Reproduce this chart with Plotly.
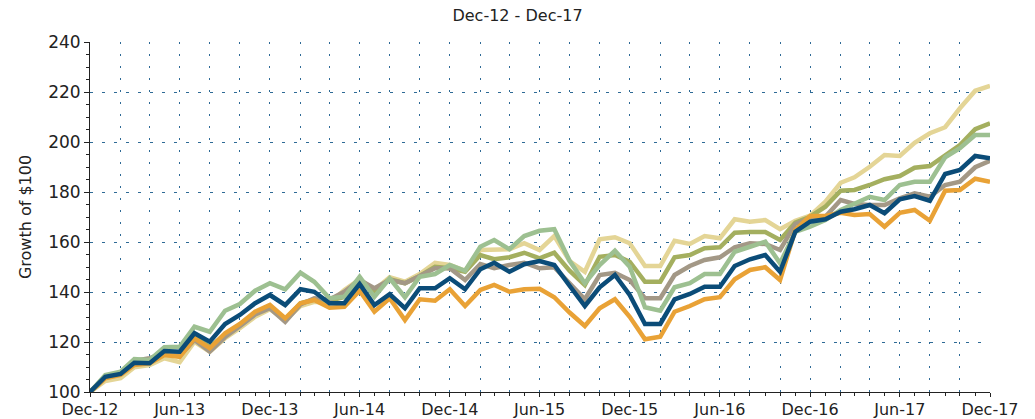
import pandas as pd
import plotly.graph_objs as go

# Monthly growth of $100, Dec-12 .. Dec-17
months = pd.date_range("2012-12-01", "2017-12-01", freq="MS")

blue = [100, 106.1, 107.2, 111.7, 111.5, 116.4, 116.1, 123.5, 120.1, 127.2, 130.8, 135.5, 138.8,
        134.8, 141.1, 140.1, 135.5, 135.5, 143.2, 134.8, 139.1, 133.5, 141.5, 141.5, 145.5,
        141.1, 149.1, 151.7, 148.1, 151.1, 152.4, 150.8, 142.5, 134.4, 141.9, 146.8, 138.8,
        127.2, 127.2, 137.1, 139.2, 142.1, 142.1, 150.4, 153.1, 154.8, 148.1, 164.1, 168.1,
        169.1, 172.1, 173.1, 174.8, 171.5, 177.1, 178.4, 176.5, 187.2, 188.8, 194.4, 193.5]
orange = [100, 105.5, 106.8, 110.8, 111.5, 114.8, 114.1, 121.5, 117.5, 123.5, 127.2, 132.1, 134.8,
          129.5, 135.5, 136.8, 133.7, 134.1, 140.5, 132.1, 137.5, 128.8, 137.1, 136.5, 141.1,
          134.4, 140.8, 142.8, 140.1, 141.1, 141.3, 137.9, 131.8, 126.4, 133.5, 137.1, 130.1,
          121.1, 122.1, 132.1, 134.4, 137.1, 137.9, 145.1, 148.8, 149.9, 144.8, 164.8, 170.4,
          170.4, 171.7, 170.8, 171.2, 166.1, 171.7, 172.8, 168.5, 180.5, 180.8, 185.3, 184.1]
yellow = [100, 104.4, 105.5, 109.9, 110.8, 113.5, 111.9, 120.1, 116.1, 121.5, 125.5, 130.1, 133.1,
          128.8, 134.4, 136.1, 135.5, 140.8, 145.1, 140.8, 145.9, 144.1, 147.2, 151.7, 150.8,
          148.5, 156.8, 156.8, 157.1, 159.5, 156.8, 162.4, 152.4, 148.1, 161.1, 161.9, 159.5,
          150.4, 150.4, 160.5, 159.2, 162.4, 161.5, 169.1, 168.1, 168.8, 165.1, 168.5, 170.5,
          176.1, 183.7, 185.9, 190.1, 194.8, 194.4, 199.7, 203.5, 205.9, 213.5, 220.5, 222.4]
olive = [100, 105.8, 107.3, 112.0, 112.0, 115.5, 115.0, 122.0, 118.0, 123.0, 127.0, 131.5, 134.0,
         129.0, 135.5, 137.0, 136.5, 138.0, 144.1, 140.5, 145.1, 143.5, 146.4, 150.1, 149.5,
         148.1, 154.8, 153.1, 153.9, 155.7, 153.5, 155.7, 148.5, 142.8, 154.1, 154.8, 152.1,
         144.1, 144.1, 153.9, 154.8, 157.5, 157.9, 163.7, 164.0, 164.0, 160.8, 167.7, 170.1,
         174.1, 180.5, 180.8, 182.8, 185.1, 186.4, 189.7, 190.4, 194.4, 198.8, 205.1, 207.5]
sage = [100, 106.8, 108.1, 113.2, 112.8, 117.9, 118.1, 126.1, 124.1, 132.5, 135.2, 140.5, 143.5,
        141.1, 147.7, 144.1, 137.5, 138.1, 146.1, 138.1, 145.5, 137.9, 146.1, 147.2, 150.8,
        148.5, 158.1, 160.8, 157.1, 162.4, 164.5, 165.1, 152.5, 143.5, 150.8, 156.5, 150.1,
        133.9, 132.5, 141.9, 143.5, 147.2, 147.2, 156.1, 158.1, 160.1, 151.5, 164.1, 166.1,
        168.8, 172.8, 175.5, 178.1, 176.8, 182.8, 184.1, 184.1, 193.9, 197.5, 202.8, 202.8]
gray = [100, 105.8, 107.5, 112.5, 113.5, 115.5, 114.5, 120.8, 116.2, 122.0, 126.3, 131.0, 133.5,
        128.1, 135.0, 137.5, 137.0, 140.1, 144.8, 141.5, 144.8, 143.5, 146.4, 149.5, 149.5,
        144.8, 151.2, 149.5, 150.8, 151.7, 149.5, 149.9, 143.5, 137.1, 146.8, 147.7, 144.8,
        137.5, 137.5, 146.8, 150.4, 152.8, 153.9, 157.9, 159.5, 159.2, 156.8, 167.2, 169.5,
        170.1, 176.8, 175.2, 174.8, 174.8, 177.5, 179.5, 178.1, 182.8, 184.1, 189.9, 192.5]

series = [
    ("yellow", yellow, "#E4D596"),
    ("olive", olive, "#A4AF5F"),
    ("gray", gray, "#A39886"),
    ("sage", sage, "#9DC091"),
    ("orange", orange, "#E9A236"),
    ("blue", blue, "#0B4C78"),
]

grid_col = "#2E6A96"
font = dict(family="DejaVu Sans", size=17, color="#222222")

# empty trace so the overlay axis (vertical grid every 2 months) gets drawn
data = [go.Scatter(x=[months[0], months[-1]], y=[None, None], xaxis="x2",
                   showlegend=False, hoverinfo="skip")]
for name, vals, col in series:
    data.append(go.Scatter(
        x=months,
        y=vals,
        mode="lines",
        name=name,
        line=dict(color=col, width=4.5),
        showlegend=False
    ))

layout = go.Layout(
    title=dict(text="Dec-12 - Dec-17", x=0.5, xanchor="center", y=0.964, yanchor="middle",
               font=dict(family="DejaVu Sans", size=16, color="#222222")),
    width=1035,
    height=419,
    margin=dict(l=90, r=45, t=42, b=27),
    paper_bgcolor="white",
    plot_bgcolor="white",
    font=font,
    xaxis=dict(
        type="date",
        range=["2012-12-01", "2017-12-01"],
        tick0="2012-12-01",
        dtick="M6",
        tickformat="%b-%y",
        tickfont=dict(size=16),
        showgrid=False,
        showline=True,
        linecolor="#222222",
        linewidth=1,
        ticks="outside",
        ticklen=4,
        tickcolor="#222222",
        ticklabelstandoff=-1,
        minor=dict(dtick="M1", tick0="2012-12-01", ticks="outside", ticklen=3,
                   tickcolor="#222222", showgrid=False),
        zeroline=False,
        automargin=False,
    ),
    xaxis2=dict(
        type="date",
        overlaying="x",
        anchor="y",
        matches="x",
        range=["2012-12-01", "2017-12-01"],
        tick0="2012-12-01",
        dtick="M2",
        showticklabels=False,
        ticks="",
        showline=False,
        showgrid=True,
        gridcolor=grid_col,
        gridwidth=1,
        griddash="2px,10px",
        zeroline=False,
        automargin=False,
    ),
    yaxis=dict(
        title=dict(text="Growth of $100", standoff=12, font=dict(size=16)),
        range=[100, 240],
        dtick=20,
        showgrid=True,
        gridcolor=grid_col,
        gridwidth=1,
        griddash="3px,9px",
        showline=True,
        linecolor="#222222",
        linewidth=1,
        ticks="outside",
        ticklen=5,
        tickcolor="#222222",
        minor=dict(dtick=5, ticks="outside", ticklen=3, tickcolor="#222222", showgrid=False),
        zeroline=False,
        automargin=False,
    ),
)

fig = go.Figure(data=data, layout=layout)
# drop the default page margin so the figure sits at the window's corner
fig.write_html("out.html",
               config={"displayModeBar": False},
               post_script="document.body.style.margin='0';document.body.style.overflow='hidden';")
